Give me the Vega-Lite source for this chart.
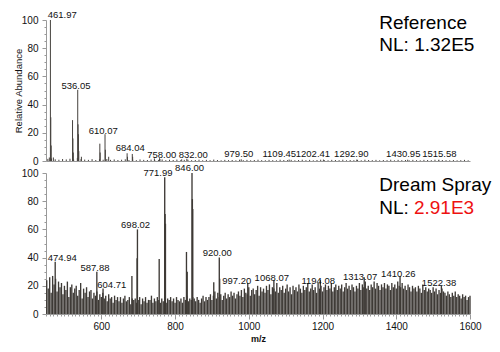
{
  "$schema": "https://vega.github.io/schema/vega-lite/v6.json",
  "padding": {"left": 13, "top": 10, "right": 0, "bottom": 0},
  "background": "white",
  "bounds": "flush",
  "spacing": 12,
  "config": {
    "view": {"stroke": null},
    "font": "Liberation Sans",
    "axis": {"domainColor": "#999999", "tickColor": "#999999", "labelColor": "#111111", "grid": false, "labelFont": "Liberation Sans", "titleFont": "Liberation Sans", "titleColor": "#111111", "labelOverlap": false}
  },
  "datasets": {
    "ref": [
      {"m":455,"i":1.5},{"m":465,"i":1.8},{"m":475,"i":1.2},{"m":485,"i":0.9},{"m":495,"i":1.4},{"m":505,"i":1.1},{"m":515,"i":1.6},{"m":525,"i":1.0},{"m":535,"i":2.2},{"m":545,"i":1.3},
      {"m":555,"i":1.0},{"m":565,"i":0.8},{"m":575,"i":1.3},{"m":585,"i":0.7},{"m":595,"i":1.2},{"m":605,"i":0.9},{"m":615,"i":1.4},{"m":625,"i":0.8},{"m":635,"i":1.1},{"m":645,"i":0.7},
      {"m":655,"i":0.9},{"m":665,"i":1.2},{"m":675,"i":0.7},{"m":685,"i":1.0},{"m":695,"i":0.6},{"m":705,"i":1.1},{"m":715,"i":0.8},{"m":725,"i":0.7},{"m":735,"i":1.0},{"m":745,"i":0.6},
      {"m":755,"i":0.8},{"m":765,"i":1.1},{"m":775,"i":0.6},{"m":785,"i":0.9},{"m":795,"i":0.7},{"m":805,"i":1.0},{"m":815,"i":0.5},{"m":825,"i":0.8},{"m":835,"i":0.9},{"m":845,"i":0.6},
      {"m":855,"i":0.7},{"m":865,"i":0.9},{"m":875,"i":0.5},{"m":885,"i":0.8},{"m":895,"i":0.6},{"m":905,"i":1.0},{"m":915,"i":0.7},{"m":925,"i":0.5},{"m":935,"i":0.8},{"m":945,"i":0.6},
      {"m":955,"i":0.7},{"m":965,"i":0.5},{"m":975,"i":0.9},{"m":985,"i":0.6},{"m":995,"i":0.8},{"m":1005,"i":0.5},{"m":1015,"i":0.7},{"m":1025,"i":0.9},{"m":1035,"i":0.6},{"m":1045,"i":0.5},
      {"m":1055,"i":0.8},{"m":1065,"i":0.6},{"m":1075,"i":0.5},{"m":1085,"i":0.9},{"m":1095,"i":0.7},{"m":1105,"i":0.6},{"m":1115,"i":0.8},{"m":1125,"i":0.5},{"m":1135,"i":0.7},{"m":1145,"i":0.9},
      {"m":1155,"i":0.6},{"m":1165,"i":0.8},{"m":1175,"i":0.5},{"m":1185,"i":0.7},{"m":1195,"i":0.9},{"m":1205,"i":0.6},{"m":1215,"i":0.5},{"m":1225,"i":0.8},{"m":1235,"i":0.7},{"m":1245,"i":0.6},
      {"m":1255,"i":0.9},{"m":1265,"i":0.5},{"m":1275,"i":0.7},{"m":1285,"i":0.6},{"m":1295,"i":0.8},{"m":1305,"i":0.5},{"m":1315,"i":0.9},{"m":1325,"i":0.7},{"m":1335,"i":0.6},{"m":1345,"i":0.8},
      {"m":1355,"i":0.5},{"m":1365,"i":0.7},{"m":1375,"i":0.6},{"m":1385,"i":0.9},{"m":1395,"i":0.5},{"m":1405,"i":0.8},{"m":1415,"i":0.6},{"m":1425,"i":0.7},{"m":1435,"i":0.5},{"m":1445,"i":0.8},
      {"m":1455,"i":0.6},{"m":1465,"i":0.5},{"m":1475,"i":0.8},{"m":1485,"i":0.7},{"m":1495,"i":0.6},{"m":1505,"i":0.9},{"m":1515,"i":0.5},{"m":1525,"i":0.7},{"m":1535,"i":0.6},{"m":1545,"i":0.5},
      {"m":1555,"i":0.7},{"m":1565,"i":0.5},{"m":1575,"i":0.6},{"m":1585,"i":0.8},{"m":1595,"i":0.5},
      {"m":459,"i":2.5},{"m":461.97,"i":100},{"m":463,"i":31},{"m":464,"i":11},{"m":470,"i":2.5},
      {"m":522,"i":29},{"m":523,"i":16},{"m":524,"i":6},{"m":536.05,"i":50.5},{"m":537,"i":26},{"m":538,"i":19},{"m":539,"i":7},{"m":546,"i":3},
      {"m":596,"i":12.3},{"m":597,"i":6},{"m":610.07,"i":19},{"m":611,"i":8},{"m":620,"i":3},
      {"m":670,"i":5.5},{"m":671,"i":3},{"m":684.04,"i":5},{"m":685,"i":3},{"m":744,"i":1.8},{"m":758,"i":2},{"m":759,"i":1.4},{"m":818,"i":1.2},{"m":832,"i":1.6},
      {"m":979.5,"i":1.2},{"m":1109.45,"i":1.0},{"m":1202.41,"i":1.0},{"m":1292.9,"i":1.0},{"m":1430.95,"i":0.9},{"m":1515.58,"i":0.9}
    ],
    "refLab": [
      {"m":494,"i":101.4,"t":"461.97"},{"m":531.4,"i":51,"t":"536.05"},{"m":605.4,"i":19.5,"t":"610.07"},{"m":678.6,"i":7.1,"t":"684.04"},
      {"m":764,"i":1.9,"t":"758.00"},{"m":849.5,"i":1.9,"t":"832.00"},{"m":973,"i":2.6,"t":"979.50"},{"m":1082.8,"i":3,"t":"1109.45"},
      {"m":1174,"i":3,"t":"1202.41"},{"m":1278,"i":3,"t":"1292.90"},{"m":1419,"i":3,"t":"1430.95"},{"m":1517,"i":3,"t":"1515.58"}
    ],
    "refTitle": [
      {"m":1354,"i":93.6,"t":"Reference"},{"m":1354,"i":78,"t":"NL: 1.32E5"}
    ],
    "dream": [
      {"m":452,"i":24},{"m":456,"i":18},{"m":460,"i":26},{"m":464,"i":15},{"m":468,"i":27},{"m":472,"i":21},{"m":476,"i":25},{"m":480,"i":16},{"m":484,"i":23},{"m":488,"i":19},
      {"m":492,"i":22},{"m":496,"i":14},{"m":500,"i":20},{"m":504,"i":17},{"m":508,"i":23},{"m":512,"i":12},{"m":516,"i":19},{"m":520,"i":21},{"m":524,"i":15},{"m":528,"i":18},
      {"m":532,"i":20},{"m":536,"i":13},{"m":540,"i":17},{"m":544,"i":22},{"m":548,"i":11},{"m":552,"i":18},{"m":556,"i":15},{"m":560,"i":19},{"m":564,"i":12},{"m":568,"i":16},
      {"m":572,"i":17},{"m":576,"i":11},{"m":580,"i":15},{"m":584,"i":13},{"m":588,"i":16},{"m":592,"i":10},{"m":596,"i":14},{"m":600,"i":12},{"m":604,"i":15},{"m":608,"i":11},
      {"m":612,"i":13},{"m":616,"i":9},{"m":620,"i":14},{"m":624,"i":11},{"m":628,"i":12},{"m":632,"i":8},{"m":636,"i":13},{"m":640,"i":10},{"m":644,"i":12},{"m":648,"i":9},
      {"m":652,"i":12},{"m":656,"i":8},{"m":660,"i":11},{"m":664,"i":13},{"m":668,"i":9},{"m":672,"i":10},{"m":676,"i":12},{"m":680,"i":7},{"m":684,"i":11},{"m":688,"i":10},
      {"m":692,"i":11},{"m":696,"i":8},{"m":700,"i":10},{"m":704,"i":12},{"m":708,"i":7},{"m":712,"i":11},{"m":716,"i":9},{"m":720,"i":12},{"m":724,"i":8},{"m":728,"i":10},
      {"m":732,"i":10},{"m":736,"i":13},{"m":740,"i":8},{"m":744,"i":11},{"m":748,"i":9},{"m":752,"i":12},{"m":756,"i":10},{"m":760,"i":8},{"m":764,"i":11},{"m":768,"i":9},
      {"m":772,"i":12},{"m":776,"i":8},{"m":780,"i":11},{"m":784,"i":10},{"m":788,"i":12},{"m":792,"i":9},{"m":796,"i":11},{"m":800,"i":8},{"m":804,"i":12},{"m":808,"i":10},
      {"m":812,"i":9},{"m":816,"i":11},{"m":820,"i":8},{"m":824,"i":12},{"m":828,"i":10},{"m":832,"i":13},{"m":836,"i":9},{"m":840,"i":11},{"m":844,"i":10},{"m":848,"i":12},
      {"m":852,"i":11},{"m":856,"i":9},{"m":860,"i":12},{"m":864,"i":10},{"m":868,"i":8},{"m":872,"i":11},{"m":876,"i":13},{"m":880,"i":9},{"m":884,"i":12},{"m":888,"i":10},
      {"m":892,"i":12},{"m":896,"i":14},{"m":900,"i":10},{"m":904,"i":13},{"m":908,"i":16},{"m":912,"i":11},{"m":916,"i":15},{"m":920,"i":12},{"m":924,"i":14},{"m":928,"i":10},
      {"m":932,"i":13},{"m":936,"i":15},{"m":940,"i":11},{"m":944,"i":14},{"m":948,"i":12},{"m":952,"i":16},{"m":956,"i":13},{"m":960,"i":15},{"m":964,"i":11},{"m":968,"i":14},
      {"m":972,"i":16},{"m":976,"i":13},{"m":980,"i":17},{"m":984,"i":12},{"m":988,"i":18},{"m":992,"i":15},{"m":996,"i":14},{"m":1000,"i":19},{"m":1004,"i":13},{"m":1008,"i":17},
      {"m":1012,"i":18},{"m":1016,"i":14},{"m":1020,"i":17},{"m":1024,"i":20},{"m":1028,"i":13},{"m":1032,"i":19},{"m":1036,"i":16},{"m":1040,"i":18},{"m":1044,"i":15},{"m":1048,"i":20},
      {"m":1052,"i":17},{"m":1056,"i":21},{"m":1060,"i":14},{"m":1064,"i":19},{"m":1068,"i":18},{"m":1072,"i":16},{"m":1076,"i":22},{"m":1080,"i":15},{"m":1084,"i":19},{"m":1088,"i":17},
      {"m":1092,"i":20},{"m":1096,"i":15},{"m":1100,"i":18},{"m":1104,"i":21},{"m":1108,"i":16},{"m":1112,"i":19},{"m":1116,"i":14},{"m":1120,"i":20},{"m":1124,"i":17},{"m":1128,"i":19},
      {"m":1132,"i":16},{"m":1136,"i":21},{"m":1140,"i":18},{"m":1144,"i":15},{"m":1148,"i":20},{"m":1152,"i":17},{"m":1156,"i":19},{"m":1160,"i":22},{"m":1164,"i":16},{"m":1168,"i":18},
      {"m":1172,"i":21},{"m":1176,"i":17},{"m":1180,"i":19},{"m":1184,"i":15},{"m":1188,"i":22},{"m":1192,"i":18},{"m":1196,"i":20},{"m":1200,"i":16},{"m":1204,"i":19},{"m":1208,"i":21},
      {"m":1212,"i":17},{"m":1216,"i":20},{"m":1220,"i":18},{"m":1224,"i":22},{"m":1228,"i":16},{"m":1232,"i":19},{"m":1236,"i":21},{"m":1240,"i":17},{"m":1244,"i":20},{"m":1248,"i":18},
      {"m":1252,"i":21},{"m":1256,"i":16},{"m":1260,"i":19},{"m":1264,"i":22},{"m":1268,"i":18},{"m":1272,"i":20},{"m":1276,"i":17},{"m":1280,"i":21},{"m":1284,"i":19},{"m":1288,"i":16},
      {"m":1292,"i":20},{"m":1296,"i":18},{"m":1300,"i":22},{"m":1304,"i":17},{"m":1308,"i":21},{"m":1312,"i":19},{"m":1316,"i":23},{"m":1320,"i":18},{"m":1324,"i":20},{"m":1328,"i":17},
      {"m":1332,"i":21},{"m":1336,"i":19},{"m":1340,"i":23},{"m":1344,"i":18},{"m":1348,"i":22},{"m":1352,"i":20},{"m":1356,"i":17},{"m":1360,"i":21},{"m":1364,"i":19},{"m":1368,"i":22},
      {"m":1372,"i":18},{"m":1376,"i":21},{"m":1380,"i":20},{"m":1384,"i":17},{"m":1388,"i":22},{"m":1392,"i":19},{"m":1396,"i":21},{"m":1400,"i":18},{"m":1404,"i":23},{"m":1408,"i":20},
      {"m":1412,"i":19},{"m":1416,"i":22},{"m":1420,"i":18},{"m":1424,"i":20},{"m":1428,"i":17},{"m":1432,"i":21},{"m":1436,"i":19},{"m":1440,"i":16},{"m":1444,"i":20},{"m":1448,"i":18},
      {"m":1452,"i":19},{"m":1456,"i":16},{"m":1460,"i":20},{"m":1464,"i":18},{"m":1468,"i":15},{"m":1472,"i":21},{"m":1476,"i":17},{"m":1480,"i":19},{"m":1484,"i":16},{"m":1488,"i":18},
      {"m":1492,"i":17},{"m":1496,"i":15},{"m":1500,"i":19},{"m":1504,"i":16},{"m":1508,"i":18},{"m":1512,"i":14},{"m":1516,"i":17},{"m":1520,"i":15},{"m":1524,"i":18},{"m":1528,"i":16},
      {"m":1532,"i":15},{"m":1536,"i":13},{"m":1540,"i":16},{"m":1544,"i":14},{"m":1548,"i":12},{"m":1552,"i":15},{"m":1556,"i":13},{"m":1560,"i":16},{"m":1564,"i":12},{"m":1568,"i":14},
      {"m":1572,"i":13},{"m":1576,"i":11},{"m":1580,"i":14},{"m":1584,"i":12},{"m":1588,"i":13},{"m":1592,"i":10},{"m":1596,"i":12},{"m":1600,"i":13},
      {"m":474.94,"i":37},{"m":587.88,"i":30},{"m":604.71,"i":18},{"m":683,"i":27},{"m":697,"i":39.5},{"m":698.02,"i":60},{"m":757,"i":39},
      {"m":771.99,"i":97},{"m":773,"i":71},{"m":774,"i":64},{"m":831,"i":44},{"m":833,"i":30},{"m":846,"i":100},{"m":847,"i":81.5},{"m":848,"i":74.5},
      {"m":905,"i":22.5},{"m":920,"i":40},{"m":921,"i":25},{"m":997.2,"i":22},{"m":1068.07,"i":24},{"m":1194.08,"i":24},{"m":1313.07,"i":26},{"m":1410.26,"i":27},{"m":1522.38,"i":20}
    ],
    "dreamLab": [
      {"m":494,"i":37.4,"t":"474.94"},{"m":582.9,"i":30.7,"t":"587.88"},{"m":628.5,"i":18.4,"t":"604.71"},{"m":693,"i":60.8,"t":"698.02"},
      {"m":753.8,"i":98,"t":"771.99"},{"m":839.5,"i":101.4,"t":"846.00"},{"m":914.6,"i":41,"t":"920.00"},{"m":967.5,"i":21.6,"t":"997.20"},
      {"m":1062.4,"i":23.6,"t":"1068.07"},{"m":1188.5,"i":21.3,"t":"1194.08"},{"m":1302,"i":24.1,"t":"1313.07"},{"m":1405.5,"i":26,"t":"1410.26"},{"m":1516,"i":20,"t":"1522.38"}
    ],
    "dreamTitle": [
      {"m":1354,"i":87,"t":"Dream Spray"},{"m":1354,"i":70.9,"t":"NL:"},{"m":1448,"i":70.9,"t":"2.91E3"}
    ]
  },
  "vconcat": [
    {
      "width": 424,
      "height": 141,
      "encoding": {
        "x": {"field": "m", "type": "quantitative", "scale": {"domain": [450, 1600], "nice": false, "zero": false},
              "axis": {"labels": false, "ticks": false, "title": null}},
        "y": {"field": "i", "type": "quantitative", "scale": {"domain": [0, 100], "nice": false},
              "axis": {"values": [0,5,10,15,20,25,30,35,40,45,50,55,60,65,70,75,80,85,90,95,100],
                       "labelExpr": "datum.value % 20 === 0 ? datum.label : ''",
                       "tickSize": {"condition": {"test": "datum.value % 20 === 0", "value": 4}, "value": 2},
                       "labelFontSize": 10, "labelPadding": 4, "labelOverlap": false, "labelFlush": false,
                       "title": "Relative Abundance", "titleFontSize": 9.5, "titleFontWeight": "normal", "titlePadding": -2}}
      },
      "layer": [
        {
          "data": {"name": "ref"},
          "mark": {"type": "rule", "color": "#46423e", "strokeWidth": 1},
          "encoding": {"y2": {"datum": 0}}
        },
        {
          "data": {"name": "refLab"},
          "mark": {"type": "text", "fontSize": 9.5, "baseline": "alphabetic", "align": "center", "color": "#111111"},
          "encoding": {"text": {"field": "t"}}
        },
        {
          "data": {"name": "refTitle"},
          "mark": {"type": "text", "fontSize": 19, "baseline": "alphabetic", "align": "left", "color": "#000000"},
          "encoding": {"text": {"field": "t"}}
        }
      ]
    },
    {
      "width": 424,
      "height": 141,
      "encoding": {
        "x": {"field": "m", "type": "quantitative", "scale": {"domain": [450, 1600], "nice": false, "zero": false},
              "axis": {"values": [450,460,470,480,490,500,510,520,530,540,550,560,570,580,590,600,610,620,630,640,650,660,670,680,690,700,710,720,730,740,750,760,770,780,790,800,810,820,830,840,850,860,870,880,890,900,910,920,930,940,950,960,970,980,990,1000,1010,1020,1030,1040,1050,1060,1070,1080,1090,1100,1110,1120,1130,1140,1150,1160,1170,1180,1190,1200,1210,1220,1230,1240,1250,1260,1270,1280,1290,1300,1310,1320,1330,1340,1350,1360,1370,1380,1390,1400,1410,1420,1430,1440,1450,1460,1470,1480,1490,1500,1510,1520,1530,1540,1550,1560,1570,1580,1590,1600],
                       "labelExpr": "datum.value % 200 === 0 ? datum.label : ''",
                       "format": "d",
                       "tickSize": {"condition": {"test": "datum.value % 200 === 0", "value": 5}, "value": 2},
                       "labelFontSize": 10, "labelPadding": 2, "labelOverlap": false, "labelFlush": false,
                       "title": "m/z", "titleFontSize": 9, "titleFontWeight": "bold", "titlePadding": 3}},
        "y": {"field": "i", "type": "quantitative", "scale": {"domain": [0, 100], "nice": false},
              "axis": {"values": [0,5,10,15,20,25,30,35,40,45,50,55,60,65,70,75,80,85,90,95,100],
                       "labelExpr": "datum.value % 20 === 0 ? datum.label : ''",
                       "tickSize": {"condition": {"test": "datum.value % 20 === 0", "value": 4}, "value": 2},
                       "labelFontSize": 10, "labelPadding": 4, "labelOverlap": false, "labelFlush": false,
                       "title": null}}
      },
      "layer": [
        {
          "data": {"name": "dream"},
          "mark": {"type": "rule", "color": "#3e3a36", "strokeWidth": 1.35},
          "encoding": {"y2": {"datum": 0}}
        },
        {
          "data": {"name": "dreamLab"},
          "mark": {"type": "text", "fontSize": 9.5, "baseline": "alphabetic", "align": "center", "color": "#111111"},
          "encoding": {"text": {"field": "t"}}
        },
        {
          "data": {"name": "dreamTitle"},
          "mark": {"type": "text", "fontSize": 19, "baseline": "alphabetic", "align": "left"},
          "encoding": {
            "text": {"field": "t"},
            "color": {"condition": {"test": "datum.t === '2.91E3'", "value": "#ee1111"}, "value": "#000000"}
          }
        }
      ]
    }
  ]
}
